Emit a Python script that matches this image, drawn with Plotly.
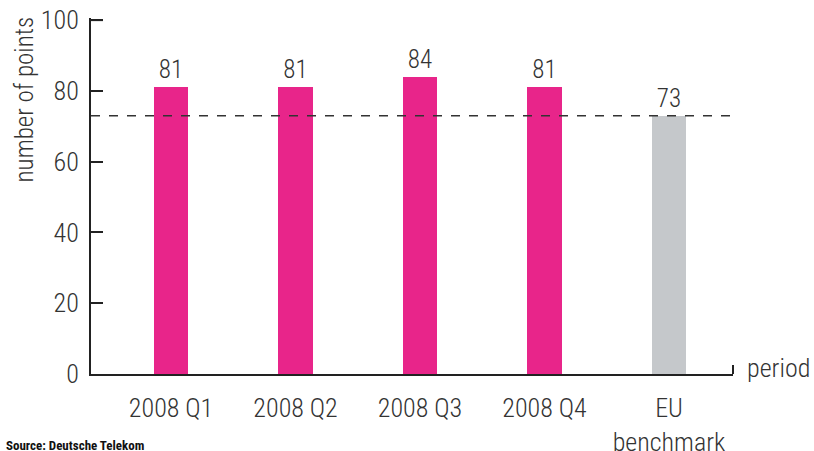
import plotly.graph_objects as go

categories = ["2008 Q1", "2008 Q2", "2008 Q3", "2008 Q4", "EU<br>benchmark"]
values = [81, 81, 84, 81, 73]
benchmark = 73
y_ticks = [0, 20, 40, 60, 80, 100]
colors = ["#E8258A", "#E8258A", "#E8258A", "#E8258A", "#C5C8CB"]

FONT = "Roboto Condensed, Liberation Sans Narrow, Roboto, sans-serif"
TXT = "#333333"
W = 300
FS = 26

fig = go.Figure()
fig.add_trace(go.Bar(
    x=list(range(len(categories))), y=values,
    marker=dict(color=colors, line=dict(width=0)),
    width=0.28,
    text=[str(v) for v in values], textposition="outside",
    textfont=dict(size=FS - 1, color=TXT, family=FONT, weight=W),
    cliponaxis=False,
))

fig.add_shape(type="line", xref="paper", yref="y", x0=0, x1=1.003, y0=benchmark, y1=benchmark,
              line=dict(color="#333333", width=1.5, dash="dash"), layer="above")
# top tick (plotly drops the inside tick at the range end)
fig.add_shape(type="line", xref="paper", yref="y", xsizemode="pixel", xanchor=0,
              x0=0, x1=12, y0=y_ticks[-1], y1=y_ticks[-1],
              line=dict(color="#222222", width=2), layer="above")
# hook at end of x axis
fig.add_shape(type="line", xref="paper", yref="paper", x0=1, x1=1, y0=0, y1=0.025,
              line=dict(color="#222222", width=2))

fig.update_layout(
    width=814, height=451,
    margin=dict(l=91, r=81, t=18, b=77),
    plot_bgcolor="white", paper_bgcolor="white",
    font=dict(family=FONT, color=TXT, size=FS, weight=W),
    showlegend=False,
    bargap=0,
    xaxis=dict(
        range=[-0.643, 4.514], automargin=False,
        tickmode="array", tickvals=list(range(len(categories))), ticktext=categories,
        showgrid=False, zeroline=False, showline=True, linecolor="#222222", linewidth=2,
        ticks="", ticklabelstandoff=10, ticklabeloverflow="allow",
        tickfont=dict(size=FS, color=TXT, family=FONT, weight=W),
    ),
    yaxis=dict(
        range=[0, 100.6], tickvals=y_ticks, automargin=False,
        showgrid=False, zeroline=False, showline=True, linecolor="#222222", linewidth=2,
        ticks="inside", ticklen=12, tickwidth=2, tickcolor="#222222",
        ticklabelstandoff=5, ticklabeloverflow="allow",
        tickfont=dict(size=FS, color=TXT, family=FONT, weight=W),
    ),
    annotations=[
        dict(text="number of points", xref="paper", yref="paper", x=0, y=1.01,
             xanchor="center", yanchor="top", textangle=-90, showarrow=False,
             font=dict(size=25, color=TXT, family=FONT, weight=W), xshift=-67),
        dict(text="period", xref="paper", yref="paper", x=1, y=0,
             xanchor="left", yanchor="middle", showarrow=False, xshift=12, yshift=6,
             font=dict(size=FS, color=TXT, family=FONT, weight=W)),
        dict(text="<b>Source: Deutsche Telekom</b>", xref="paper", yref="paper",
             x=0, y=0, xanchor="left", yanchor="top", showarrow=False,
             xshift=-87, yshift=-62,
             font=dict(size=13, color="#111111", family="Roboto Condensed, Liberation Sans Narrow, Roboto", weight=700)),
    ],
)

fig.write_html("out.html", config={"displayModeBar": False},
               post_script="document.body.style.margin='0';document.body.style.overflow='hidden';")
